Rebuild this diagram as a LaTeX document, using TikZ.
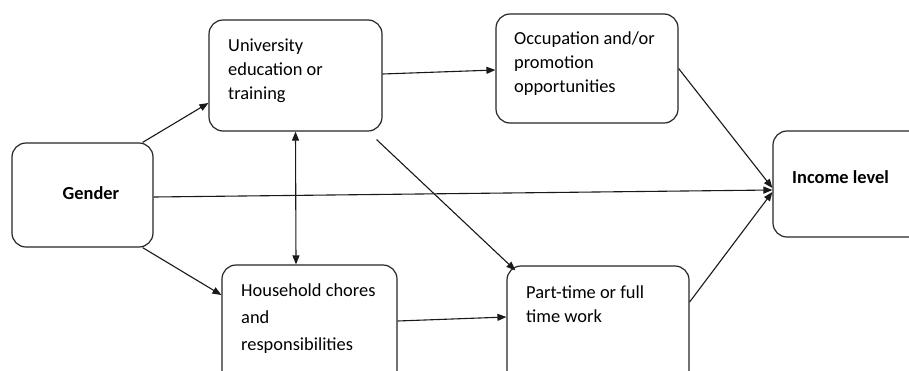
\documentclass[tikz,border=0pt]{standalone}
\usepackage{fontspec}
\setmainfont{Carlito}
\usetikzlibrary{arrows.meta,calc}
\begin{document}
\begin{tikzpicture}[x=1pt,y=-1pt,
  box/.style={draw=black!85,line width=1.2pt,rounded corners=14pt,inner sep=0pt,minimum width=#1},
  lbl/.style={inner sep=0pt,font=\fontsize{18.4}{24}\selectfont,align=left},
  conn/.style={draw=black!90,line width=1.1pt,-{Triangle[length=9pt,width=7pt]}},
  conn2/.style={draw=black!90,line width=1.1pt,{Triangle[length=9pt,width=7pt]}-{Triangle[length=9pt,width=7pt]}}]
\useasboundingbox (0,0) rectangle (909,370);
\clip (0,0) rectangle (909,370);
\fill[white] (0,0) rectangle (909,370);
% boxes
\node[box=141pt,minimum height=104pt] (gender) at (82.5,195) {};
\node[box=173pt,minimum height=111pt] (univ) at (295.5,75.5) {};
\node[box=175pt,minimum height=120pt] (house) at (309.5,325) {};
\node[box=182pt,minimum height=109pt] (occ) at (587,68.5) {};
\node[box=152pt,minimum height=106pt] (income) at (849,184) {};
\node[box=182pt,minimum height=119pt] (part) at (598,325.5) {};
% labels
\node[lbl,font=\fontsize{18.4}{24}\selectfont\bfseries] (tg) at (91,193) {Gender};
\node[lbl,anchor=west] (tu) at (228,71) {University\\education or\\training};
\node[lbl,anchor=west,font=\fontsize{18.4}{27}\selectfont] (th) at (241,319) {Household chores\\and\\responsibilities};
\node[lbl,anchor=west] (to) at (514,64) {Occupation and/or\\promotion\\opportunities};
\node[lbl,anchor=west] (tp) at (526,304) {Part-time or full\\time work};
\node[lbl,anchor=west,font=\fontsize{18.4}{24}\selectfont\bfseries] (ti) at (792,177) {Income level};
% connectors
\draw[conn] ([xshift=-11pt]gender.north east) -- ([yshift=-27.5pt]univ.west);
\draw[conn] ([xshift=-11pt]gender.south east) -- ([yshift=30pt]house.west);
\draw[conn] ([yshift=-2pt]gender.east) -- ([yshift=-6pt]income.west);
\draw[conn2] (univ.south) -- ([xshift=-13.5pt]house.north);
\draw[conn] ([yshift=1.5pt]univ.east) -- ([yshift=-1.5pt]occ.west);
\draw[conn] ([xshift=-6pt,yshift=-8pt]univ.south east) -- ([xshift=9pt,yshift=-5pt]part.north west);
\draw[conn] ([yshift=4pt]house.east) -- ([yshift=8.5pt]part.west);
\draw[conn] (occ.east) -- ([yshift=-4pt]income.west);
\draw[conn] ([yshift=23.5pt]part.east) -- ([yshift=-8pt]income.west);
\end{tikzpicture}
\end{document}
